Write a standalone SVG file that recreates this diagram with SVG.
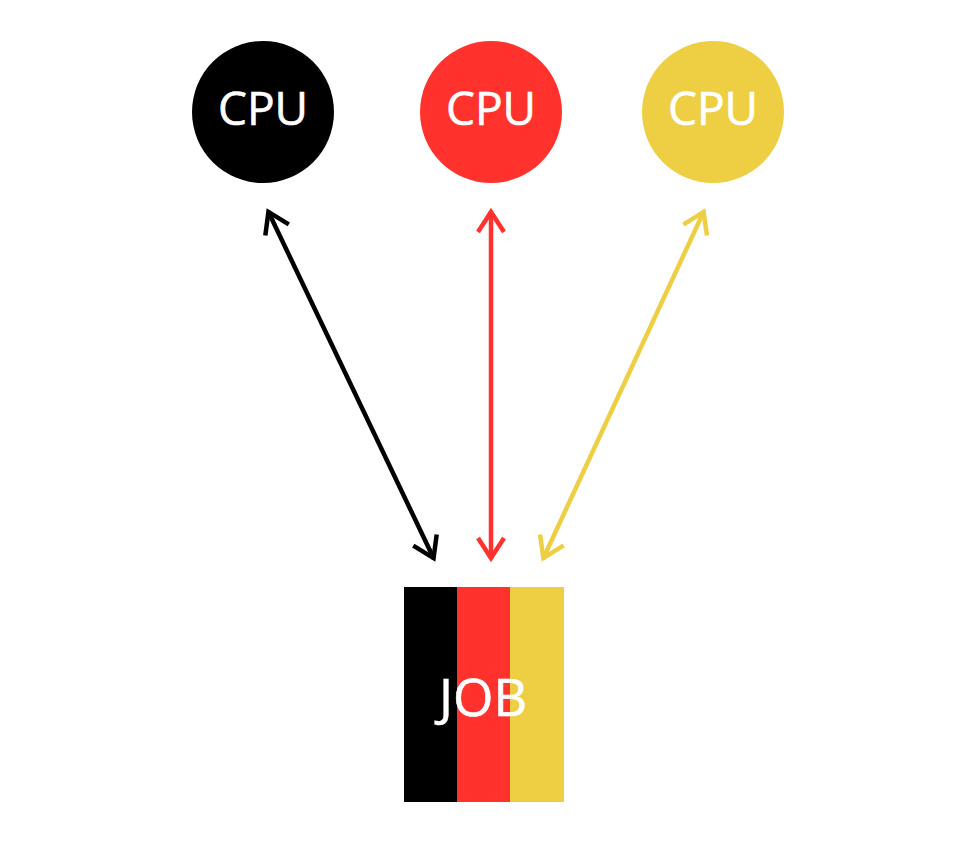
<svg xmlns="http://www.w3.org/2000/svg" width="960" height="844" viewBox="0 0 960 844">
<defs>
<style>
.lbl{font-family:"Open Sans","Noto Sans",sans-serif;fill:#fff;text-anchor:middle;stroke:#fff;stroke-width:0.6}
.cpu{font-size:46px}
.job{font-size:52px}
.conn{fill:none;stroke-width:4.5}
</style>
<marker id="ak" viewBox="0 0 28 32" refX="24" refY="16" markerWidth="28" markerHeight="32" orient="auto-start-reverse" markerUnits="userSpaceOnUse"><path d="M3,3 L23,16 L3,29" fill="none" stroke="#000" stroke-width="4.5" stroke-linejoin="miter"/></marker>
<marker id="ar" viewBox="0 0 28 32" refX="24" refY="16" markerWidth="28" markerHeight="32" orient="auto-start-reverse" markerUnits="userSpaceOnUse"><path d="M3,3 L23,16 L3,29" fill="none" stroke="#ff322e" stroke-width="4.5" stroke-linejoin="miter"/></marker>
<marker id="ay" viewBox="0 0 28 32" refX="24" refY="16" markerWidth="28" markerHeight="32" orient="auto-start-reverse" markerUnits="userSpaceOnUse"><path d="M3,3 L23,16 L3,29" fill="none" stroke="#eecf44" stroke-width="4.5" stroke-linejoin="miter"/></marker>
</defs>
<rect width="960" height="844" fill="#fff"/>
<g id="cpu1"><circle cx="263" cy="112" r="71" fill="#000"/><text class="lbl cpu" x="263" y="125">CPU</text></g>
<g id="cpu2"><circle cx="491" cy="112" r="71" fill="#ff322e"/><text class="lbl cpu" x="491" y="125">CPU</text></g>
<g id="cpu3"><circle cx="713" cy="112" r="71" fill="#eecf44"/><text class="lbl cpu" x="713" y="125">CPU</text></g>
<g id="job"><rect x="404" y="587" width="53" height="215" fill="#000"/><rect x="457" y="587" width="53" height="215" fill="#ff322e"/><rect x="510" y="587" width="54" height="215" fill="#eecf44"/><text class="lbl job" x="483" y="716">JOB</text></g>
<g id="connectors">
<line class="conn" x1="268" y1="211" x2="434" y2="559" stroke="#000" marker-start="url(#ak)" marker-end="url(#ak)"/>
<line class="conn" x1="491" y1="211" x2="491" y2="559" stroke="#ff322e" marker-start="url(#ar)" marker-end="url(#ar)"/>
<line class="conn" x1="704" y1="211" x2="543" y2="559" stroke="#eecf44" marker-start="url(#ay)" marker-end="url(#ay)"/>
</g>
</svg>
